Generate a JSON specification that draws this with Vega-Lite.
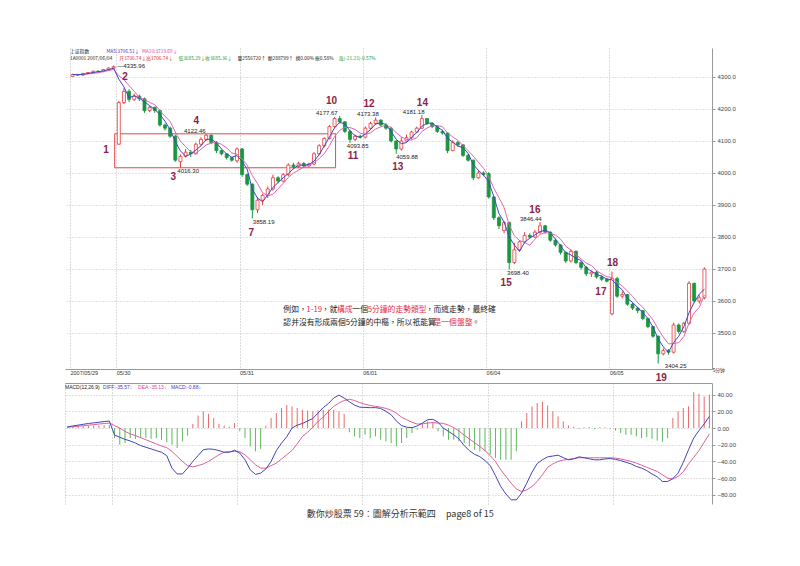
{
"$schema": "https://vega.github.io/schema/vega-lite/v6.json",
"background": "white",
"padding": {"left": 65, "top": 48, "right": 5, "bottom": 5},
"spacing": 0,
"config": {"view": {"stroke": null}, "font": "Liberation Sans"},
"title": {"text": "數你炒股票 59：圖解分析示範四\u00a0\u00a0\u00a0\u00a0\u00a0page8 of 15", "orient": "bottom", "anchor": "middle", "font": "Noto Sans CJK TC", "fontSize": 9, "fontWeight": "normal", "color": "#333333", "offset": 6},
"datasets": {
"k": [
{"i":0,"o":4302,"h":4310,"l":4300,"c":4308},{"i":1,"o":4308,"h":4310,"l":4303,"c":4306},{"i":2,"o":4306,"h":4313,"l":4304,"c":4311},{"i":3,"o":4311,"h":4316,"l":4309,"c":4314},{"i":4,"o":4314,"h":4320,"l":4312,"c":4318},{"i":5,"o":4318,"h":4321,"l":4314,"c":4317},{"i":6,"o":4317,"h":4325,"l":4315,"c":4323},{"i":7,"o":4323,"h":4330,"l":4321,"c":4328},{"i":8,"o":4328,"h":4335.96,"l":4326,"c":4332},
{"i":9,"o":4090,"h":4225,"l":4088,"c":4220},{"i":10,"o":4220,"h":4265,"l":4215,"c":4255},{"i":11,"o":4255,"h":4262,"l":4222,"c":4230},{"i":12,"o":4230,"h":4248,"l":4225,"c":4240},{"i":13,"o":4240,"h":4245,"l":4225,"c":4232},{"i":14,"o":4232,"h":4236,"l":4188,"c":4195},{"i":15,"o":4195,"h":4210,"l":4190,"c":4205},{"i":16,"o":4205,"h":4208,"l":4188,"c":4195},{"i":17,"o":4195,"h":4198,"l":4145,"c":4150},{"i":18,"o":4150,"h":4155,"l":4132,"c":4140},{"i":19,"o":4140,"h":4145,"l":4110,"c":4115},{"i":20,"o":4115,"h":4120,"l":4035,"c":4040},{"i":21,"o":4035,"h":4058,"l":4016.3,"c":4052},{"i":22,"o":4052,"h":4075,"l":4048,"c":4065},{"i":23,"o":4065,"h":4072,"l":4050,"c":4060},{"i":24,"o":4060,"h":4095,"l":4058,"c":4090},{"i":25,"o":4090,"h":4112,"l":4085,"c":4105},{"i":26,"o":4105,"h":4122.46,"l":4100,"c":4118},{"i":27,"o":4118,"h":4120,"l":4090,"c":4095},{"i":28,"o":4095,"h":4100,"l":4062,"c":4070},{"i":29,"o":4070,"h":4073,"l":4055,"c":4060},{"i":30,"o":4060,"h":4062,"l":4042,"c":4048},{"i":31,"o":4048,"h":4050,"l":4035,"c":4040},{"i":32,"o":4038,"h":4080,"l":4032,"c":4075},
{"i":33,"o":4075,"h":4078,"l":3988,"c":3995},{"i":34,"o":3995,"h":3998,"l":3960,"c":3965},{"i":35,"o":3965,"h":3968,"l":3858.19,"c":3885},{"i":36,"o":3885,"h":3925,"l":3875,"c":3915},{"i":37,"o":3915,"h":3935,"l":3900,"c":3930},{"i":38,"o":3930,"h":3958,"l":3922,"c":3950},{"i":39,"o":3950,"h":3995,"l":3945,"c":3985},{"i":40,"o":3985,"h":3990,"l":3968,"c":3975},{"i":41,"o":3975,"h":4000,"l":3970,"c":3995},{"i":42,"o":3995,"h":4030,"l":3990,"c":4025},{"i":43,"o":4025,"h":4032,"l":4012,"c":4020},{"i":44,"o":4020,"h":4035,"l":4015,"c":4030},{"i":45,"o":4030,"h":4034,"l":4016,"c":4022},{"i":46,"o":4022,"h":4032,"l":4018,"c":4028},{"i":47,"o":4028,"h":4065,"l":4025,"c":4060},{"i":48,"o":4060,"h":4090,"l":4055,"c":4085},{"i":49,"o":4085,"h":4112,"l":4080,"c":4108},{"i":50,"o":4108,"h":4150,"l":4105,"c":4145},{"i":51,"o":4145,"h":4175,"l":4140,"c":4170},{"i":52,"o":4170,"h":4177.67,"l":4155,"c":4160},{"i":53,"o":4160,"h":4162,"l":4125,"c":4130},{"i":54,"o":4130,"h":4135,"l":4093.85,"c":4105},{"i":55,"o":4105,"h":4120,"l":4100,"c":4115},{"i":56,"o":4115,"h":4120,"l":4108,"c":4112},
{"i":57,"o":4112,"h":4145,"l":4108,"c":4140},{"i":58,"o":4140,"h":4160,"l":4135,"c":4155},{"i":59,"o":4155,"h":4173.38,"l":4150,"c":4165},{"i":60,"o":4165,"h":4168,"l":4145,"c":4150},{"i":61,"o":4150,"h":4155,"l":4135,"c":4140},{"i":62,"o":4140,"h":4145,"l":4095,"c":4100},{"i":63,"o":4100,"h":4102,"l":4059.88,"c":4075},{"i":64,"o":4075,"h":4112,"l":4070,"c":4100},{"i":65,"o":4100,"h":4120,"l":4098,"c":4110},{"i":66,"o":4110,"h":4132,"l":4105,"c":4128},{"i":67,"o":4128,"h":4145,"l":4125,"c":4140},{"i":68,"o":4140,"h":4181.18,"l":4138,"c":4170},{"i":69,"o":4170,"h":4172,"l":4150,"c":4155},{"i":70,"o":4155,"h":4158,"l":4140,"c":4145},{"i":71,"o":4145,"h":4150,"l":4125,"c":4130},{"i":72,"o":4130,"h":4135,"l":4120,"c":4125},{"i":73,"o":4125,"h":4128,"l":4062,"c":4070},{"i":74,"o":4070,"h":4102,"l":4068,"c":4095},{"i":75,"o":4095,"h":4100,"l":4082,"c":4088},{"i":76,"o":4088,"h":4090,"l":4050,"c":4055},{"i":77,"o":4055,"h":4060,"l":4035,"c":4040},{"i":78,"o":4040,"h":4042,"l":3978,"c":3985},{"i":79,"o":3985,"h":4008,"l":3982,"c":4000},{"i":80,"o":4000,"h":4005,"l":3990,"c":3995},
{"i":81,"o":3998,"h":4003,"l":3920,"c":3925},{"i":82,"o":3925,"h":3928,"l":3853,"c":3860},{"i":83,"o":3860,"h":3865,"l":3825,"c":3835},{"i":84,"o":3820,"h":3850,"l":3812,"c":3845},{"i":85,"o":3845,"h":3848,"l":3698.4,"c":3720},{"i":86,"o":3720,"h":3782,"l":3715,"c":3760},{"i":87,"o":3760,"h":3790,"l":3755,"c":3785},{"i":88,"o":3785,"h":3815,"l":3780,"c":3805},{"i":89,"o":3805,"h":3812,"l":3795,"c":3800},{"i":90,"o":3800,"h":3822,"l":3797,"c":3815},{"i":91,"o":3815,"h":3846.44,"l":3810,"c":3835},{"i":92,"o":3835,"h":3838,"l":3810,"c":3815},{"i":93,"o":3815,"h":3818,"l":3785,"c":3790},{"i":94,"o":3790,"h":3795,"l":3770,"c":3775},{"i":95,"o":3775,"h":3778,"l":3745,"c":3752},{"i":96,"o":3752,"h":3755,"l":3719,"c":3725},{"i":97,"o":3725,"h":3762,"l":3720,"c":3755},{"i":98,"o":3755,"h":3758,"l":3715,"c":3720},{"i":99,"o":3720,"h":3725,"l":3698,"c":3705},{"i":100,"o":3705,"h":3710,"l":3678,"c":3685},{"i":101,"o":3685,"h":3695,"l":3675,"c":3690},{"i":102,"o":3690,"h":3695,"l":3670,"c":3675},{"i":103,"o":3675,"h":3680,"l":3662,"c":3668},{"i":104,"o":3668,"h":3672,"l":3658,"c":3662},
{"i":105,"o":3560,"h":3692,"l":3555,"c":3670},{"i":106,"o":3670,"h":3675,"l":3610,"c":3615},{"i":107,"o":3615,"h":3630,"l":3608,"c":3620},{"i":108,"o":3620,"h":3622,"l":3585,"c":3590},{"i":109,"o":3590,"h":3595,"l":3572,"c":3578},{"i":110,"o":3578,"h":3582,"l":3562,"c":3570},{"i":111,"o":3570,"h":3572,"l":3540,"c":3545},{"i":112,"o":3545,"h":3548,"l":3515,"c":3520},{"i":113,"o":3520,"h":3522,"l":3485,"c":3490},{"i":114,"o":3490,"h":3492,"l":3404.25,"c":3435},{"i":115,"o":3435,"h":3452,"l":3430,"c":3445},{"i":116,"o":3445,"h":3450,"l":3432,"c":3440},{"i":117,"o":3440,"h":3532,"l":3436,"c":3525},{"i":118,"o":3525,"h":3530,"l":3498,"c":3505},{"i":119,"o":3505,"h":3535,"l":3500,"c":3530},{"i":120,"o":3530,"h":3662,"l":3525,"c":3655},{"i":121,"o":3655,"h":3658,"l":3595,"c":3600},{"i":122,"o":3600,"h":3618,"l":3592,"c":3610},{"i":123,"o":3610,"h":3705,"l":3605,"c":3700}
],
"m": [
{"i":0,"d":1.5,"e":1,"h":2},{"i":1,"d":2.5,"e":1.6,"h":2},{"i":2,"d":3.5,"e":2.2,"h":2.5},{"i":3,"d":4.5,"e":2.8,"h":2.5},{"i":4,"d":5.5,"e":3.5,"h":3},{"i":5,"d":6.2,"e":4.1,"h":3},{"i":6,"d":7,"e":4.8,"h":3},{"i":7,"d":7.8,"e":5.4,"h":3.5},{"i":8,"d":8.4,"e":6,"h":3.5},
{"i":9,"d":-8.5,"e":3,"h":-12},{"i":10,"d":-11,"e":0,"h":-20},{"i":11,"d":-13.5,"e":-4,"h":-18},{"i":12,"d":-15.5,"e":-7,"h":-12},{"i":13,"d":-18,"e":-9,"h":-13},{"i":14,"d":-21,"e":-11.5,"h":-12},{"i":15,"d":-23,"e":-14,"h":-12},{"i":16,"d":-25,"e":-16.5,"h":-13},{"i":17,"d":-27,"e":-19,"h":-12},{"i":18,"d":-29,"e":-21.5,"h":-14},{"i":19,"d":-33,"e":-23.5,"h":-17},{"i":20,"d":-48,"e":-28,"h":-20},{"i":21,"d":-55,"e":-34,"h":-24},{"i":22,"d":-55,"e":-40,"h":-16},{"i":23,"d":-48,"e":-45,"h":-9},{"i":24,"d":-40,"e":-46.5,"h":5},{"i":25,"d":-33,"e":-45,"h":15},{"i":26,"d":-26,"e":-43,"h":20},{"i":27,"d":-25,"e":-40,"h":17},{"i":28,"d":-25.5,"e":-36,"h":12},{"i":29,"d":-27,"e":-32,"h":5},{"i":30,"d":-29,"e":-29,"h":3},{"i":31,"d":-29,"e":-28.2,"h":1.5},{"i":32,"d":-26.5,"e":-28,"h":6},
{"i":33,"d":-30,"e":-28.5,"h":-4},{"i":34,"d":-38,"e":-32,"h":-12},{"i":35,"d":-50,"e":-38,"h":-22},{"i":36,"d":-55.5,"e":-44,"h":-28},{"i":37,"d":-54,"e":-48,"h":-25},{"i":38,"d":-49,"e":-48,"h":3},{"i":39,"d":-40,"e":-45,"h":12},{"i":40,"d":-27,"e":-42,"h":18},{"i":41,"d":-18,"e":-37,"h":24},{"i":42,"d":-10.5,"e":-32,"h":27.6},{"i":43,"d":0,"e":-27,"h":26},{"i":44,"d":3.5,"e":-19,"h":24},{"i":45,"d":5.5,"e":-10,"h":22},{"i":46,"d":8.5,"e":-5,"h":21},{"i":47,"d":11.5,"e":1,"h":20},{"i":48,"d":18,"e":8,"h":21},{"i":49,"d":24.5,"e":13,"h":22},{"i":50,"d":29.5,"e":20,"h":22},{"i":51,"d":36,"e":26,"h":22},{"i":52,"d":39.5,"e":30,"h":20},{"i":53,"d":36,"e":33,"h":17},{"i":54,"d":31.5,"e":34.5,"h":-5},{"i":55,"d":27.5,"e":33,"h":-10},{"i":56,"d":25,"e":30.5,"h":-12},
{"i":57,"d":24.8,"e":28.5,"h":-8},{"i":58,"d":24.4,"e":27,"h":-12},{"i":59,"d":24.5,"e":26,"h":-10},{"i":60,"d":23.5,"e":25,"h":-14},{"i":61,"d":20,"e":23.5,"h":-16},{"i":62,"d":16,"e":21.5,"h":-18},{"i":63,"d":8.5,"e":18,"h":-22},{"i":64,"d":3,"e":13,"h":-18},{"i":65,"d":1,"e":10,"h":-12},{"i":66,"d":0.5,"e":7,"h":-6},{"i":67,"d":2.5,"e":4.8,"h":-2},{"i":68,"d":6,"e":5,"h":5},{"i":69,"d":10,"e":6,"h":8},{"i":70,"d":10.5,"e":6.5,"h":7},{"i":71,"d":7,"e":6,"h":-4},{"i":72,"d":0,"e":5.6,"h":-10},{"i":73,"d":-4,"e":3.5,"h":-14},{"i":74,"d":-8,"e":0.5,"h":-14},{"i":75,"d":-13,"e":-3.5,"h":-16},{"i":76,"d":-21,"e":-8.5,"h":-18},{"i":77,"d":-27,"e":-13,"h":-22},{"i":78,"d":-31.5,"e":-17.5,"h":-26},{"i":79,"d":-34.2,"e":-22,"h":-28},{"i":80,"d":-39,"e":-27,"h":-28},
{"i":81,"d":-45,"e":-33,"h":-32},{"i":82,"d":-57,"e":-40,"h":-36},{"i":83,"d":-70,"e":-50,"h":-38},{"i":84,"d":-79,"e":-58,"h":-38},{"i":85,"d":-86,"e":-66,"h":-38},{"i":86,"d":-86,"e":-73,"h":-28},{"i":87,"d":-78,"e":-76,"h":8},{"i":88,"d":-66,"e":-74,"h":18},{"i":89,"d":-53,"e":-70,"h":26},{"i":90,"d":-42.5,"e":-64,"h":30},{"i":91,"d":-38,"e":-56,"h":31.6},{"i":92,"d":-34.5,"e":-47,"h":27},{"i":93,"d":-33.5,"e":-43,"h":20},{"i":94,"d":-32.5,"e":-40,"h":14},{"i":95,"d":-35.5,"e":-38.4,"h":8},{"i":96,"d":-38,"e":-37.5,"h":3},{"i":97,"d":-37,"e":-36.5,"h":1.5},{"i":98,"d":-34.5,"e":-35.6,"h":-1},{"i":99,"d":-35.5,"e":-35.6,"h":1},{"i":100,"d":-37,"e":-35.6,"h":1},{"i":101,"d":-38,"e":-35.6,"h":-1.5},{"i":102,"d":-38,"e":-35.6,"h":1},{"i":103,"d":-37,"e":-35.6,"h":0.8},{"i":104,"d":-36.5,"e":-35.6,"h":-1},
{"i":105,"d":-37.5,"e":-36,"h":-3},{"i":106,"d":-39,"e":-37,"h":-6},{"i":107,"d":-41,"e":-38.5,"h":-8},{"i":108,"d":-43,"e":-40,"h":-8},{"i":109,"d":-46,"e":-42,"h":-10},{"i":110,"d":-48,"e":-44.5,"h":-12},{"i":111,"d":-51,"e":-47,"h":-11},{"i":112,"d":-55,"e":-49.5,"h":-13},{"i":113,"d":-58.5,"e":-52,"h":-15},{"i":114,"d":-64,"e":-56,"h":-16.4},{"i":115,"d":-64,"e":-60,"h":-12},{"i":116,"d":-60.5,"e":-61,"h":12},{"i":117,"d":-54,"e":-58,"h":20},{"i":118,"d":-41,"e":-52.5,"h":24},{"i":119,"d":-26,"e":-43,"h":26},{"i":120,"d":-12,"e":-35,"h":43},{"i":121,"d":-3,"e":-27,"h":41},{"i":122,"d":5,"e":-17,"h":38},{"i":123,"d":14,"e":-7,"h":40}
],
"hdr": [
{"t":"上证指数","x":-0.5,"y":4378,"k":"txt"},{"t":"MA5:3706.51↓","x":6.6,"y":4378,"k":"ma5"},{"t":"MA10:3719.69↓","x":13.5,"y":4378,"k":"ma10"},
{"t":"1A0001 2007/06/04","x":-0.5,"y":4356,"k":"txt"},{"t":"开3706.74↓","x":9.1,"y":4356,"k":"up"},{"t":"高3706.74↓","x":14.3,"y":4356,"k":"up"},{"t":"低3685.29↓","x":20.6,"y":4356,"k":"dn"},{"t":"收3685.36↓","x":25.8,"y":4356,"k":"dn"},{"t":"量2556720↑","x":32.1,"y":4356,"k":"txt"},{"t":"额288799↑","x":38,"y":4356,"k":"txt"},{"t":"换0.00%","x":43.4,"y":4356,"k":"txt"},{"t":"振0.58%","x":47.2,"y":4356,"k":"txt"},{"t":"涨(-21.23)-0.57%","x":51.8,"y":4356,"k":"dn"},
{"t":"5分钟","x":124.6,"y":3381,"k":"txt"}
],
"note": [
{"t":"例如，","x":41.03,"y":3572,"k":"txt"},{"t":"1-19","x":45.51,"y":3572,"k":"note"},{"t":"，就","x":48.48,"y":3572,"k":"txt"},{"t":"構成","x":51.47,"y":3572,"k":"note"},{"t":"一個","x":54.46,"y":3572,"k":"txt"},{"t":"5分鐘的走勢類型","x":57.45,"y":3572,"k":"note"},{"t":"，而這走勢，最終確","x":68.74,"y":3572,"k":"txt"},
{"t":"認并沒有形成兩個5分鐘的中樞，所以祇能算","x":41.03,"y":3530,"k":"txt"},{"t":"是一個盤整","x":70.26,"y":3530,"k":"note"},{"t":"。","x":77.73,"y":3530,"k":"txt"}
],
"num": [
{"t":"1","x":6.5,"y":4072},{"t":"2","x":10.2,"y":4301},{"t":"3","x":19.6,"y":3987},{"t":"4","x":24.1,"y":4162},{"t":"7","x":34.8,"y":3811},{"t":"10","x":50.4,"y":4225},{"t":"11","x":54.6,"y":4053},{"t":"12","x":57.7,"y":4217},{"t":"13","x":63.3,"y":4020},{"t":"14","x":68.1,"y":4220},{"t":"15","x":84.4,"y":3657},{"t":"16","x":90,"y":3884},{"t":"17","x":102.85,"y":3629},{"t":"18","x":105.1,"y":3718},{"t":"19","x":114.6,"y":3360}
],
"pl": [
{"t":"—4335.96","x":11.4,"y":4334},{"t":"4122.46","x":23.8,"y":4131},{"t":"4016.30","x":22.5,"y":4006},{"t":"3858.19","x":37.2,"y":3848},{"t":"4177.67","x":49.5,"y":4188},{"t":"4093.85","x":55.5,"y":4085},{"t":"4173.38","x":57.5,"y":4183},{"t":"4059.88","x":65.1,"y":4051},{"t":"4181.18","x":66.4,"y":4191},{"t":"3698.40","x":86.7,"y":3688},{"t":"3846.44","x":89.2,"y":3855},{"t":"3404.25","x":117.4,"y":3398}
],
"mhdr": [
{"t":"MACD(12,26,9)","x":-0.5,"y":49,"k":"txt"},{"t":"DIFF:-35.57↓","x":6.8,"y":49,"k":"ma5"},{"t":"DEA:-35.13↓","x":13.5,"y":49,"k":"ma10"},{"t":"MACD:-0.88↓","x":19.8,"y":49,"k":"ma5"}
]
},
"vconcat": [
{
"width": 647, "height": 321,
"layer": [
{"data": {"values": [{"x1": 8.2, "x2": 51.2, "y1": 4016.3, "y2": 4122.46}]},
 "mark": {"type": "rect", "fill": "transparent", "stroke": "#e04848", "strokeWidth": 1},
 "encoding": {
  "x": {"field": "x1", "type": "quantitative", "title": null, "scale": {"domain": [-0.5, 123.5], "nice": false, "zero": false},
    "axis": {"orient": "bottom", "title": null, "values": [-0.5, 8.5, 32.5, 56.5, 80.5, 104.5], "labelExpr": "datum.value < 0 ? '2007/05/29' : datum.value < 10 ? '05/30' : datum.value < 40 ? '05/31' : datum.value < 60 ? '06/01' : datum.value < 90 ? '06/04' : '06/05'", "labelAlign": "left", "labelFontSize": 5.5, "labelColor": "#333333", "labelPadding": 1, "labelFlush": false, "labelOverlap": false, "ticks": false, "grid": true, "gridDash": [1, 2], "gridColor": "#b8b8b8", "domainColor": "#999999"}},
  "x2": {"field": "x2"},
  "y": {"field": "y1", "type": "quantitative", "title": null, "scale": {"domain": [3387.5, 4390.6], "nice": false, "zero": false},
    "axis": {"orient": "right", "title": null, "values": [3500, 3600, 3700, 3800, 3900, 4000, 4100, 4200, 4300], "tickCount": 10, "format": ".1f", "labelFontSize": 6, "labelColor": "#444444", "labelPadding": 2, "labelOverlap": false, "tickSize": 3, "tickColor": "#999999", "domainColor": "#999999", "grid": true, "gridDash": [1, 2], "gridColor": "#c4c4c4"}},
  "y2": {"field": "y2"}
 }},
{"data": {"name": "k"}, "mark": {"type": "rule", "strokeWidth": 1},
 "encoding": {"x": {"field": "i", "type": "quantitative", "title": null}, "y": {"field": "l", "type": "quantitative", "title": null}, "y2": {"field": "h"},
  "color": {"condition": {"test": "datum.c >= datum.o", "value": "#e8383d"}, "value": "#1a9641"}}},
{"data": {"name": "k"}, "mark": {"type": "bar", "size": 3, "strokeWidth": 0.8},
 "encoding": {"x": {"field": "i", "type": "quantitative", "title": null}, "y": {"field": "o", "type": "quantitative", "title": null}, "y2": {"field": "c"},
  "fill": {"condition": {"test": "datum.c >= datum.o", "value": "#ffffff"}, "value": "#1a9641"},
  "stroke": {"condition": {"test": "datum.c >= datum.o", "value": "#e8383d"}, "value": "#1a9641"}}},
{"data": {"name": "k"}, "transform": [{"window": [{"op": "mean", "field": "c", "as": "ma10"}], "frame": [-4, 0], "sort": [{"field": "i"}]}],
 "mark": {"type": "line", "color": "#e066b0", "strokeWidth": 1},
 "encoding": {"x": {"field": "i", "type": "quantitative", "title": null}, "y": {"field": "ma10", "type": "quantitative", "title": null}}},
{"data": {"name": "k"}, "transform": [{"window": [{"op": "mean", "field": "c", "as": "ma5"}], "frame": [-2, 0], "sort": [{"field": "i"}]}],
 "mark": {"type": "line", "color": "#4444c4", "strokeWidth": 1},
 "encoding": {"x": {"field": "i", "type": "quantitative", "title": null}, "y": {"field": "ma5", "type": "quantitative", "title": null}}},
{"data": {"name": "hdr"}, "mark": {"type": "text", "align": "left", "baseline": "middle", "fontSize": 4.8, "font": "Noto Sans CJK SC"},
 "encoding": {"x": {"field": "x", "type": "quantitative", "title": null}, "y": {"field": "y", "type": "quantitative", "title": null}, "text": {"field": "t"},
  "color": {"field": "k", "type": "nominal", "legend": null, "scale": {"domain": ["txt", "ma5", "ma10", "up", "dn", "note"], "range": ["#222222", "#3b3bc4", "#d9489e", "#e03030", "#1f9a3a", "#e8304a"]}}}},
{"data": {"name": "note"}, "mark": {"type": "text", "align": "left", "baseline": "middle", "fontSize": 7.8, "font": "Noto Sans CJK TC"},
 "encoding": {"x": {"field": "x", "type": "quantitative", "title": null}, "y": {"field": "y", "type": "quantitative", "title": null}, "text": {"field": "t"},
  "color": {"field": "k", "type": "nominal", "legend": null, "scale": {"domain": ["txt", "ma5", "ma10", "up", "dn", "note"], "range": ["#222222", "#3b3bc4", "#d9489e", "#e03030", "#1f9a3a", "#e8304a"]}}}},
{"data": {"name": "pl"}, "mark": {"type": "text", "align": "center", "baseline": "middle", "fontSize": 6, "color": "#222222"},
 "encoding": {"x": {"field": "x", "type": "quantitative", "title": null}, "y": {"field": "y", "type": "quantitative", "title": null}, "text": {"field": "t"}}},
{"data": {"name": "num"}, "mark": {"type": "text", "align": "center", "baseline": "middle", "fontSize": 10, "fontWeight": "bold", "color": "#8b2346"},
 "encoding": {"x": {"field": "x", "type": "quantitative", "title": null}, "y": {"field": "y", "type": "quantitative", "title": null}, "text": {"field": "t"}}}
]
},
{
"width": 647, "height": 121,
"layer": [
{"data": {"name": "m"}, "mark": {"type": "rule", "strokeWidth": 1},
 "encoding": {
  "x": {"field": "i", "type": "quantitative", "title": null, "scale": {"domain": [-0.5, 123.5], "nice": false, "zero": false},
    "axis": {"orient": "top", "title": null, "values": [-0.5, 8.5, 32.5, 56.5, 80.5, 104.5], "labels": false, "ticks": false, "grid": true, "gridDash": [1, 2], "gridColor": "#b8b8b8", "domainColor": "#999999"}},
  "y": {"field": "h", "type": "quantitative", "title": null, "scale": {"domain": [-91, 54], "nice": false, "zero": false},
    "axis": {"orient": "right", "title": null, "values": [-80, -60, -40, -20, 0, 20, 40], "tickCount": 8, "format": ".2f", "labelFontSize": 6, "labelColor": "#444444", "labelPadding": 2, "labelOverlap": false, "tickSize": 3, "tickColor": "#999999", "domainColor": "#999999", "grid": true, "gridDash": [1, 2], "gridColor": "#c4c4c4"}},
  "y2": {"datum": 0},
  "color": {"condition": {"test": "datum.h >= 0", "value": "#e86a6a"}, "value": "#5cb85c"}}},
{"data": {"name": "m"}, "mark": {"type": "line", "color": "#e0609a", "strokeWidth": 1},
 "encoding": {"x": {"field": "i", "type": "quantitative", "title": null}, "y": {"field": "e", "type": "quantitative", "title": null}}},
{"data": {"name": "m"}, "mark": {"type": "line", "color": "#4444bb", "strokeWidth": 1},
 "encoding": {"x": {"field": "i", "type": "quantitative", "title": null}, "y": {"field": "d", "type": "quantitative", "title": null}}},
{"data": {"name": "mhdr"}, "mark": {"type": "text", "align": "left", "baseline": "middle", "fontSize": 5},
 "encoding": {"x": {"field": "x", "type": "quantitative", "title": null}, "y": {"field": "y", "type": "quantitative", "title": null}, "text": {"field": "t"},
  "color": {"field": "k", "type": "nominal", "legend": null, "scale": {"domain": ["txt", "ma5", "ma10", "up", "dn", "note"], "range": ["#222222", "#3b3bc4", "#d9489e", "#e03030", "#1f9a3a", "#e8304a"]}}}}
]
}
]
}
